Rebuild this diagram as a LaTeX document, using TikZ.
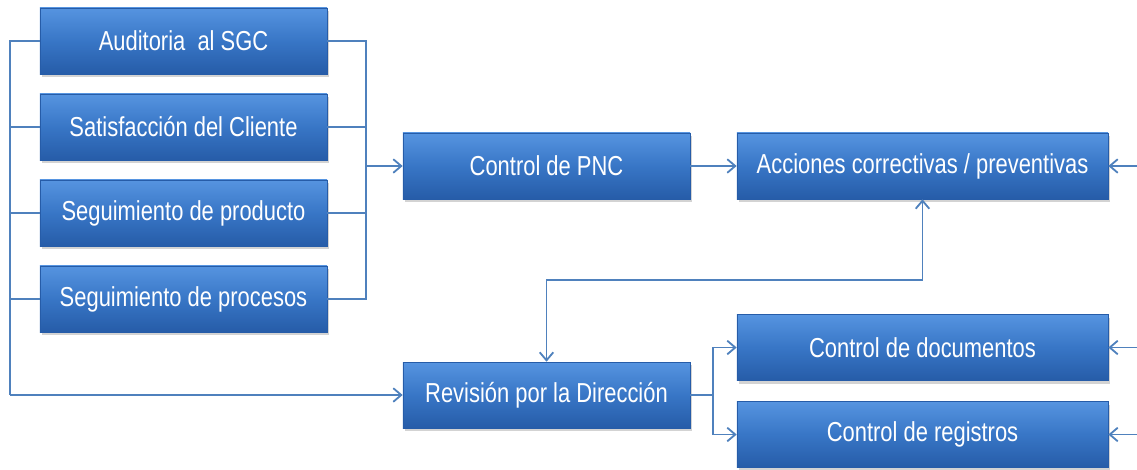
\documentclass[tikz,border=0pt]{standalone}
\usepackage{fontspec}
\newfontfamily\cajafont[FakeStretch=0.8]{Liberation Sans}
\usetikzlibrary{arrows.meta,shadows}
\definecolor{linea}{RGB}{79,129,189}
\definecolor{cajaarriba}{RGB}{86,148,224}
\definecolor{cajamedio}{RGB}{56,118,198}
\definecolor{cajaabajo}{RGB}{38,92,168}
\tikzset{
  caja/.style={draw=cajaabajo, line width=0.4pt, top color=cajaarriba, bottom color=cajaabajo, middle color=cajamedio,
    drop shadow={opacity=0.35, shadow xshift=0.05cm, shadow yshift=-0.08cm},
    text=white, font=\cajafont\fontsize{19.5}{22}\selectfont,
    minimum width=7.175cm, minimum height=1.65cm, inner sep=0pt},
  cajaancha/.style={caja, minimum width=9.275cm},
  conector/.style={draw=linea, line width=1.3pt},
}
\begin{document}
\begin{tikzpicture}[>={Straight Barb[length=2mm,width=3.4mm]}, x=0.025cm, y=-0.025cm]
\useasboundingbox (0,0) rectangle (1137,469);
% Entradas
\node[caja] (aud) at (183.5,41) {Auditoria~ al SGC};
\node[caja] (sat) at (183.5,127) {Satisfacción del Cliente};
\node[caja] (prod) at (183.5,213) {Seguimiento de producto};
\node[caja] (proc) at (183.5,299) {Seguimiento de procesos};
% Control y acciones
\node[caja] (pnc) at (546.5,166) {Control de PNC};
\node[cajaancha] (acc) at (922.5,166) {Acciones correctivas / preventivas};
% Revision
\node[caja] (rev) at (546.5,395) {Revisión por la Dirección};
\node[cajaancha] (doc) at (922.5,347.5) {Control de documentos};
\node[cajaancha] (reg) at (922.5,434.5) {Control de registros};

\coordinate (izq) at (10,41);
\coordinate (der) at (366,41);
\coordinate (e1) at (1137,166);
\coordinate (e2) at (1137,347.5);
\coordinate (e3) at (1137,434.5);

% Bus izquierdo
\draw[conector] (aud.west) -- (izq) -- (izq |- rev.west);
\draw[conector,->] (izq |- rev.west) -- (rev.west);
\foreach \n in {sat,prod,proc}
  \draw[conector] (\n.west) -- (izq |- \n.west);

% Bus derecho
\draw[conector] (aud.east) -- (der) -- (der |- proc.east) -- (proc.east);
\foreach \n in {sat,prod}
  \draw[conector] (\n.east) -- (der |- \n.east);
\draw[conector,->] (der |- pnc.west) -- (pnc.west);
\draw[conector,->] (pnc.east) -- (acc.west);

% Realimentacion
\draw[conector,<->] (rev.north) -- ++(0,-82) -| (acc.south);
\draw[conector,->] (rev.east) -- ++(23,0) |- (doc.west);
\draw[conector,->] (rev.east) -- ++(23,0) |- (reg.west);
\foreach \c/\n in {e1/acc,e2/doc,e3/reg}
  \draw[conector,->] (\c) -- (\n.east);
\end{tikzpicture}
\end{document}
